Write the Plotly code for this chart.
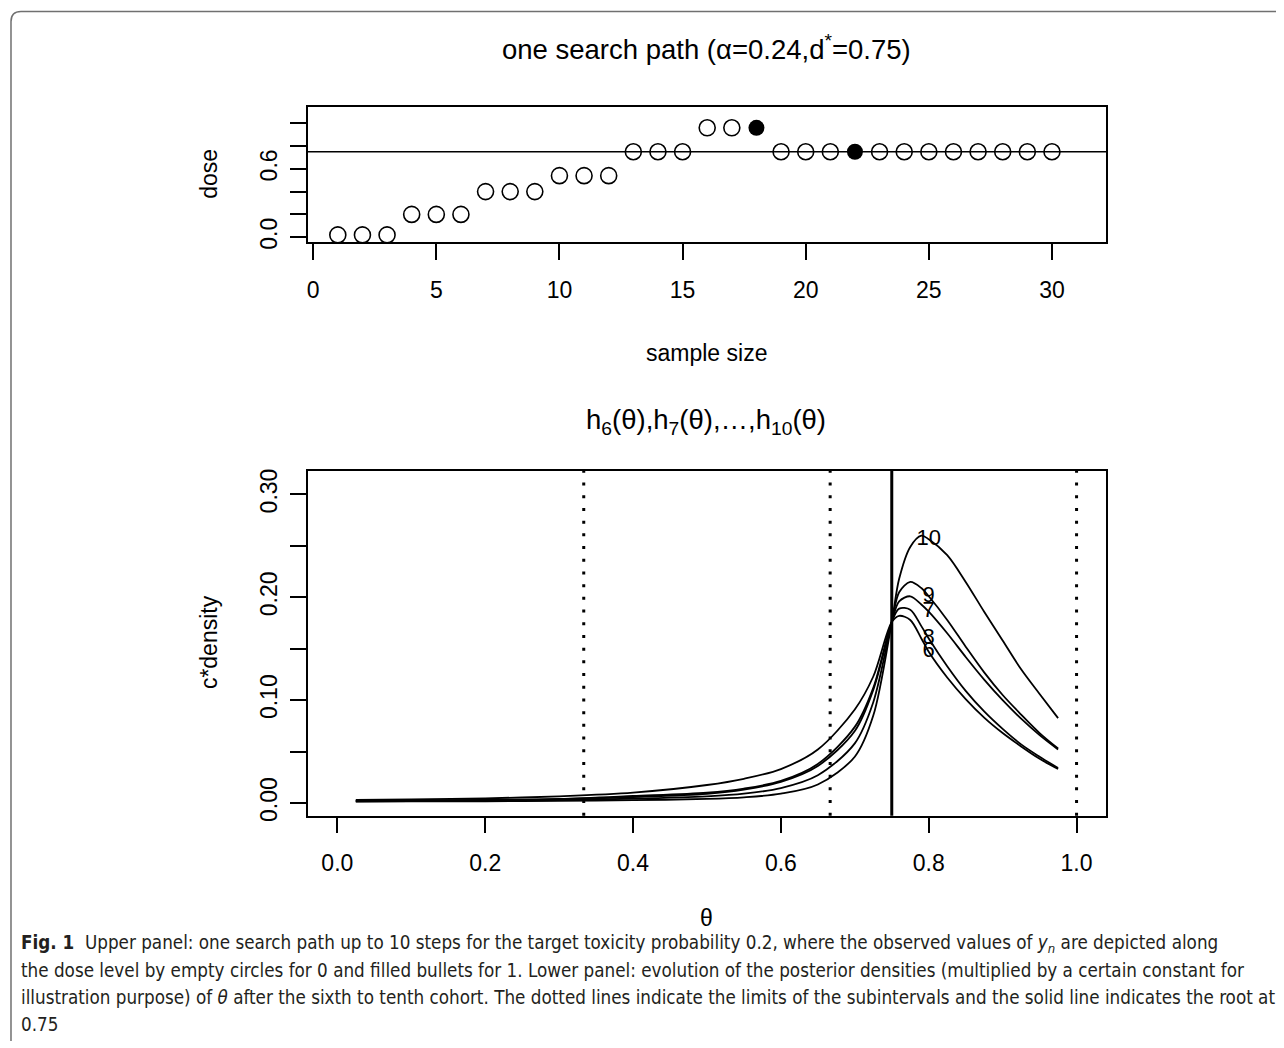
import plotly.graph_objects as go

# page body adds an 8px margin; the photo comes back squeezed a little in height
OFF = 8
SY, Y0 = 0.9887, 1.5
W, H = 1284 - OFF, 1040

# upper panel: one search path
sample = list(range(1, 31))
dose = [0.02, 0.02, 0.02, 0.2, 0.2, 0.2, 0.4, 0.4, 0.4, 0.54, 0.54, 0.54,
        0.75, 0.75, 0.75, 0.96, 0.96, 0.96, 0.75, 0.75, 0.75, 0.75, 0.75, 0.75,
        0.75, 0.75, 0.75, 0.75, 0.75, 0.75]
tox = [0, 0, 0, 0, 0, 0, 0, 0, 0, 0, 0, 0, 0, 0, 0, 0, 0, 1,
       0, 0, 0, 1, 0, 0, 0, 0, 0, 0, 0, 0]
d_star = 0.75

# lower panel: scaled posterior densities h6..h10
theta = [0.025, 0.1, 0.2, 0.3, 0.4, 0.5, 0.55, 0.6, 0.65, 0.7, 0.725, 0.75,
         0.76, 0.775, 0.79, 0.8, 0.825, 0.85, 0.875, 0.9, 0.925, 0.95, 0.975]
h6 = [0.0030, 0.0035, 0.0045, 0.0065, 0.0100, 0.0175, 0.0235, 0.0330, 0.0520, 0.0910, 0.1230, 0.176,
      0.182, 0.178, 0.160, 0.147, 0.122, 0.101, 0.083, 0.068, 0.055, 0.043, 0.033]
h7 = [0.0020, 0.0022, 0.0027, 0.0037, 0.0058, 0.0090, 0.0130, 0.0205, 0.0360, 0.0700, 0.1100, 0.176,
      0.196, 0.201, 0.193, 0.186, 0.165, 0.142, 0.120, 0.100, 0.082, 0.066, 0.052]
h8 = [0.0022, 0.0025, 0.0030, 0.0040, 0.0068, 0.0100, 0.0140, 0.0215, 0.0380, 0.0740, 0.1120, 0.176,
      0.189, 0.188, 0.172, 0.160, 0.133, 0.109, 0.089, 0.072, 0.057, 0.045, 0.034]
h9 = [0.0017, 0.0018, 0.0022, 0.0028, 0.0042, 0.0065, 0.0090, 0.0145, 0.0270, 0.0580, 0.0980, 0.176,
      0.205, 0.215, 0.209, 0.201, 0.178, 0.152, 0.127, 0.105, 0.086, 0.068, 0.053]
h10 = [0.0014, 0.0015, 0.0017, 0.0021, 0.0027, 0.0040, 0.0055, 0.0090, 0.0180, 0.0450, 0.0850, 0.176,
       0.218, 0.249, 0.260, 0.2565, 0.241, 0.215, 0.186, 0.158, 0.130, 0.106, 0.0825]
curves = {"6": h6, "7": h7, "8": h8, "9": h9, "10": h10}
label_at = 0.8
limits = [1/3, 2/3, 1.0]
root = 0.75

caption = [
    "<b>Fig. 1</b>  Upper panel: one search path up to 10 steps for the target toxicity probability 0.2, where the observed values of <i>y<sub>n</sub></i> are depicted along",
    "the dose level by empty circles for 0 and filled bullets for 1. Lower panel: evolution of the posterior densities (multiplied by a certain constant for",
    "illustration purpose) of <i>θ</i> after the sixth to tenth cohort. The dotted lines indicate the limits of the subintervals and the solid line indicates the root at",
    "0.75",
]

FONT = "Liberation Sans, Arial, sans-serif"
CAPFONT = "Liberation Sans Narrow, DejaVu Sans Condensed, Liberation Sans, sans-serif"
AX = 23
TT = 27.5

# helpers: target pixel -> paper coordinate
def px(x):
    return (x - OFF) / W

def py(y):
    return 1 - ((y - Y0) / SY - OFF) / H

fig = go.Figure()

# upper panel points
open_x = [s for s, t in zip(sample, tox) if t == 0]
open_y = [d for d, t in zip(dose, tox) if t == 0]
fill_x = [s for s, t in zip(sample, tox) if t == 1]
fill_y = [d for d, t in zip(dose, tox) if t == 1]
fig.add_trace(go.Scatter(x=open_x, y=open_y, mode="markers", xaxis="x", yaxis="y",
                         marker=dict(symbol="circle-open", size=16, color="black", line=dict(width=1.6)),
                         showlegend=False))
fig.add_trace(go.Scatter(x=fill_x, y=fill_y, mode="markers", xaxis="x", yaxis="y",
                         marker=dict(symbol="circle", size=16, color="black"),
                         showlegend=False))

# lower panel curves
for name, vals in curves.items():
    fig.add_trace(go.Scatter(x=theta, y=vals, mode="lines", xaxis="x2", yaxis="y2",
                             line=dict(color="black", width=1.8, shape="spline", smoothing=0.9),
                             showlegend=False))
i_lab = theta.index(label_at)
fig.add_trace(go.Scatter(x=[label_at] * len(curves), y=[v[i_lab] for v in curves.values()],
                         text=list(curves.keys()), mode="text", xaxis="x2", yaxis="y2",
                         textfont=dict(family=FONT, size=22, color="black"), showlegend=False))

xdom = [px(307), px(1106)]
axis_common = dict(showline=True, mirror=True, linecolor="black", linewidth=1.5,
                   ticks="outside", ticklen=16, tickwidth=1.5, tickcolor="black",
                   showgrid=False, zeroline=False, tickfont=dict(family=FONT, size=AX, color="black"))

fig.update_layout(
    width=W, height=H, margin=dict(l=0, r=0, t=0, b=0),
    paper_bgcolor="white", plot_bgcolor="white",
    xaxis=dict(domain=xdom, anchor="y", range=[-0.22, 32.2], tickvals=[0, 5, 10, 15, 20, 25, 30],
               ticklabelstandoff=10, **axis_common),
    yaxis=dict(domain=[py(241), py(106)], anchor="x", range=[-0.044, 1.144],
               tickvals=[0, 0.2, 0.4, 0.6, 0.8, 1.0], ticktext=["0.0", "", "", "0.6", "", ""],
               tickangle=-90, ticklabelstandoff=4, **axis_common),
    xaxis2=dict(domain=xdom, anchor="y2", range=[-0.04, 1.04], tickvals=[0, 0.2, 0.4, 0.6, 0.8, 1.0],
                ticktext=["0.0", "0.2", "0.4", "0.6", "0.8", "1.0"], ticklabelstandoff=10, **axis_common),
    yaxis2=dict(domain=[py(813), py(469)], anchor="x2", range=[-0.0124, 0.323],
                tickvals=[0, 0.05, 0.1, 0.15, 0.2, 0.25, 0.3],
                ticktext=["0.00", "", "0.10", "", "0.20", "", "0.30"],
                tickangle=-90, ticklabelstandoff=4, **axis_common),
)

shapes = [dict(type="line", xref="x domain", x0=0, x1=1, yref="y", y0=d_star, y1=d_star,
               line=dict(color="black", width=1.5))]
for v in limits:
    shapes.append(dict(type="line", xref="x2", x0=v, x1=v, yref="y2 domain", y0=0, y1=1,
                       line=dict(color="black", width=3, dash="3px,9.7px")))
shapes.append(dict(type="line", xref="x2", x0=root, x1=root, yref="y2 domain", y0=0, y1=1,
                   line=dict(color="black", width=3)))
# outer frame with rounded corner
r = 10
shapes.append(dict(type="path", xref="paper", yref="paper",
                   path=f"M {px(10)},0 L {px(10)},{py(11 + r)} Q {px(10)},{py(11)} {px(10 + r)},{py(11)} L 1,{py(11)}",
                   line=dict(color="#707070", width=1.5)))
fig.update_layout(shapes=shapes)

ann = [
    dict(text="one search path (α=0.24,d<sup>*</sup>=0.75)", x=px(706), y=py(47), font=dict(size=TT)),
    dict(text="sample size", x=px(706), y=py(351), font=dict(size=AX)),
    dict(text="dose", x=px(208), y=py(173), textangle=-90, font=dict(size=AX)),
    dict(text="h<sub>6</sub>(θ),h<sub>7</sub>(θ),…,h<sub>10</sub>(θ)", x=px(706), y=py(420), font=dict(size=TT)),
    dict(text="c*density", x=px(208), y=py(640), textangle=-90, font=dict(size=AX)),
    dict(text="θ", x=px(706), y=py(915), font=dict(size=AX)),
]
for a in ann:
    a.update(xref="paper", yref="paper", showarrow=False, xanchor="center", yanchor="middle")
    a["font"].update(family=FONT, color="black")
for k, line in enumerate(caption):
    ann.append(dict(text=line, xref="paper", yref="paper", x=px(18), y=py(941 + 26.6 * k),
                    xanchor="left", yanchor="middle", showarrow=False,
                    font=dict(family=CAPFONT, size=18.7, color="#231f20")))
fig.update_layout(annotations=ann)

fig.write_html("out.html")
